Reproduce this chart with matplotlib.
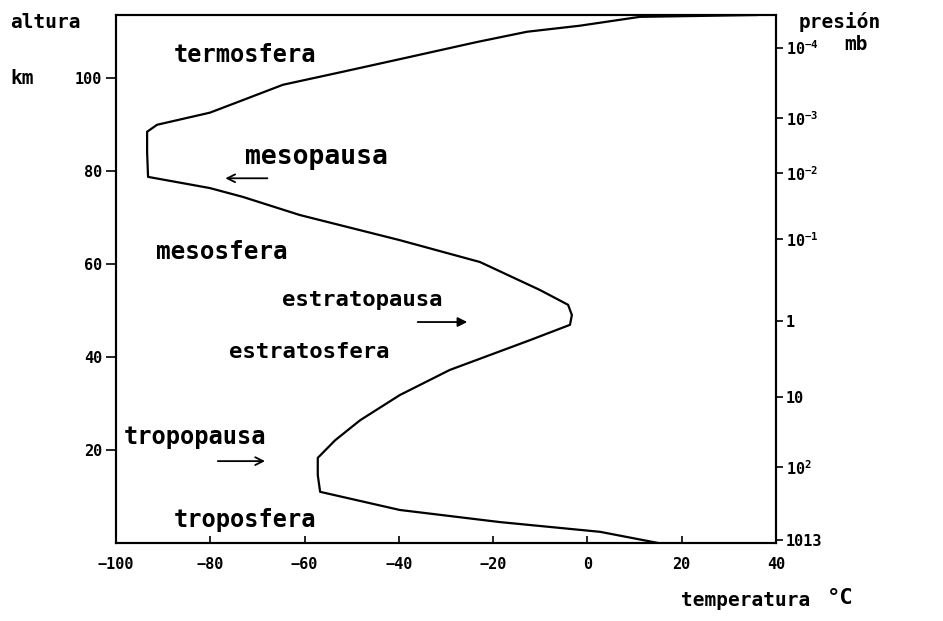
import matplotlib
matplotlib.use("Agg")
import matplotlib.pyplot as plt

plt.rcParams["mathtext.fontset"] = "custom"
plt.rcParams["mathtext.rm"] = "DejaVu Sans Mono:bold"
plt.rcParams["mathtext.bf"] = "DejaVu Sans Mono:bold"
plt.rcParams["mathtext.default"] = "rm"

# Temperature profile (°C) vs altitude (km)
temp_c = [15, 2.7, -18.6, -39.8, -56.7, -57.2, -57.2, -53.5, -48.2, -39.8, -29.2,
          -12.2, -3.7, -3.3, -4.1, -10.1, -22.8, -39.8, -61.0, -73.1, -80.1, -93.2,
          -93.4, -93.4, -91.3, -80.1, -73.1, -64.6, -51.9, -37.6, -23.4, -12.8,
          -1.6, 11.1, 36.0]
alt_km = [0, 2.4, 4.5, 7.1, 11.0, 14.6, 18.3, 22.1, 26.4, 31.8, 37.2,
          43.6, 46.9, 49.0, 51.2, 54.4, 60.4, 65.1, 70.5, 74.4, 76.3, 78.7,
          84.0, 88.4, 89.9, 92.5, 95.2, 98.5, 101.3, 104.5, 107.7, 109.9,
          111.2, 113.1, 113.5]

x_ticks = [-100, -80, -60, -40, -20, 0, 20, 40]
y_ticks = [20, 40, 60, 80, 100]
pres_km = [106.5, 91.4, 79.6, 65.4, 47.7, 31.4, 16.3, 0.6]
pres_labels = [r"$10^{-4}$", r"$10^{-3}$", r"$10^{-2}$", r"$10^{-1}$", "1", "10", r"$10^{2}$", "1013"]

layer_names = ["termosfera", "mesopausa", "mesosfera", "estratopausa",
               "estratosfera", "tropopausa", "troposfera"]
layer_T = [-72.6, -57.4, -77.5, -47.8, -59.1, -83.2, -72.6]
layer_z = [104.9, 83.0, 62.6, 52.2, 41.1, 22.8, 4.9]

arrow_tail_T = [-67.3, -36.6, -79.0]
arrow_head_T = [-77.4, -24.9, -67.8]
arrow_z = [78.4, 47.5, 17.6]
arrow_styles = ["->", "-|>", "->"]

FONT = "DejaVu Sans Mono"
layer_font_sizes = [17, 19, 17.5, 16, 16, 17, 17]

fig = plt.figure(figsize=(9.43, 6.21), dpi=100)
ax = fig.add_axes([116/943, 78/621, 660/943, 528/621])
ax.plot(temp_c, alt_km, color="black", lw=1.6, clip_on=True)
ax.set_xlim(-100, 40)
ax.set_ylim(0, 113.5)
for s in ax.spines.values():
    s.set_linewidth(1.5)

ax.set_xticks(x_ticks)
ax.set_xticklabels([str(v).replace("-", "\u2212") for v in x_ticks],
                   fontfamily=FONT, fontweight="bold", fontsize=11)
ax.tick_params(axis="x", direction="in", length=5, width=1.2, pad=10)
ax.set_yticks(y_ticks)
ax.set_yticklabels([str(v) for v in y_ticks], fontfamily=FONT, fontweight="bold", fontsize=11)
ax.tick_params(axis="y", direction="out", length=7, width=1.2, pad=3)

ax2 = ax.twinx()
ax2.set_ylim(ax.get_ylim())
ax2.set_yticks(pres_km)
ax2.set_yticklabels(pres_labels, fontfamily=FONT, fontweight="bold", fontsize=11)
ax2.tick_params(axis="y", direction="out", length=5, width=1.2, pad=2)
for s in ax2.spines.values():
    s.set_linewidth(1.5)

for name, t, z, fs in zip(layer_names, layer_T, layer_z, layer_font_sizes):
    ax.text(t, z, name, ha="center", va="center", fontfamily=FONT,
            fontweight="bold", fontsize=fs)

for t0, t1, z, st in zip(arrow_tail_T, arrow_head_T, arrow_z, arrow_styles):
    ax.annotate("", xy=(t1, z), xytext=(t0, z),
                arrowprops=dict(arrowstyle=st, lw=1.3, color="black",
                                facecolor="white", mutation_scale=14))

fig.text(10/943, 1-22/621, "altura", fontfamily=FONT, fontweight="bold",
         fontsize=14, va="center", ha="left")
fig.text(10/943, 1-78/621, "km", fontfamily=FONT, fontweight="bold",
         fontsize=14, va="center", ha="left")
fig.text(840/943, 1-22/621, "presión", fontfamily=FONT, fontweight="bold",
         fontsize=14, va="center", ha="center")
fig.text(856/943, 1-45/621, "mb", fontfamily=FONT, fontweight="bold",
         fontsize=14, va="center", ha="center")
fig.text(746/943, 1-600/621, "temperatura", fontfamily=FONT, fontweight="bold",
         fontsize=14, va="center", ha="center")
fig.text(840/943, 1-598/621, "°C", fontfamily=FONT, fontweight="bold",
         fontsize=16, va="center", ha="center")

fig.savefig("out.png", dpi=100)
